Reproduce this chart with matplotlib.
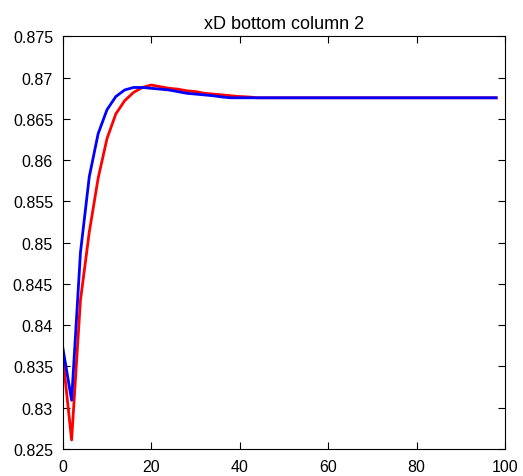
import matplotlib
matplotlib.use("Agg")
import matplotlib.pyplot as plt
import numpy as np

x = list(range(0, 100, 2))
blue_head = [0.8373, 0.8309, 0.8488, 0.8580, 0.8632, 0.8661, 0.8677, 0.8685, 0.8688, 0.8688,
             0.8687, 0.8686, 0.8685, 0.8683, 0.8681, 0.8680, 0.8679, 0.8678, 0.86765]
red_head = [0.8362, 0.8261, 0.8430, 0.8513, 0.8578, 0.8626, 0.8656, 0.8672, 0.8682, 0.8688,
            0.8691, 0.8689, 0.8687, 0.8686, 0.8684, 0.8683, 0.8681, 0.8680, 0.8679, 0.8678,
            0.8677, 0.86765]
final_value = 0.86755
blue = blue_head + [final_value] * (len(x) - len(blue_head))
red = red_head + [final_value] * (len(x) - len(red_head))

title = "xD bottom column 2"
yticks = [0.825, 0.83, 0.835, 0.84, 0.845, 0.85, 0.855, 0.86, 0.865, 0.87, 0.875]
xticks = [0, 20, 40, 60, 80, 100]

plt.rcParams['font.family'] = ['Liberation Sans', 'DejaVu Sans']
fig = plt.figure(figsize=(5.23, 4.77), dpi=100)
ax = fig.add_axes([0.12, 0.0566, 0.8456, 0.8652])
ax.plot(x, red, color='#ff0000', lw=2)
ax.plot(x, blue, color='#0000ff', lw=2)
ax.set_xlim(0, 100)
ax.set_ylim(0.825, 0.875)
ax.set_xticks(xticks)
ax.set_yticks(yticks)
ax.set_yticklabels(["%g" % v for v in yticks])
ax.tick_params(direction='in', top=True, right=True, length=5, labelsize=11.5, width=0.8)
ax.tick_params(axis='y', pad=7)
ax.tick_params(axis='x', pad=7)
for s in ax.spines.values():
    s.set_linewidth(0.8)
ax.set_title(title, fontsize=13, pad=6)
fig.savefig("out.png", dpi=100)
